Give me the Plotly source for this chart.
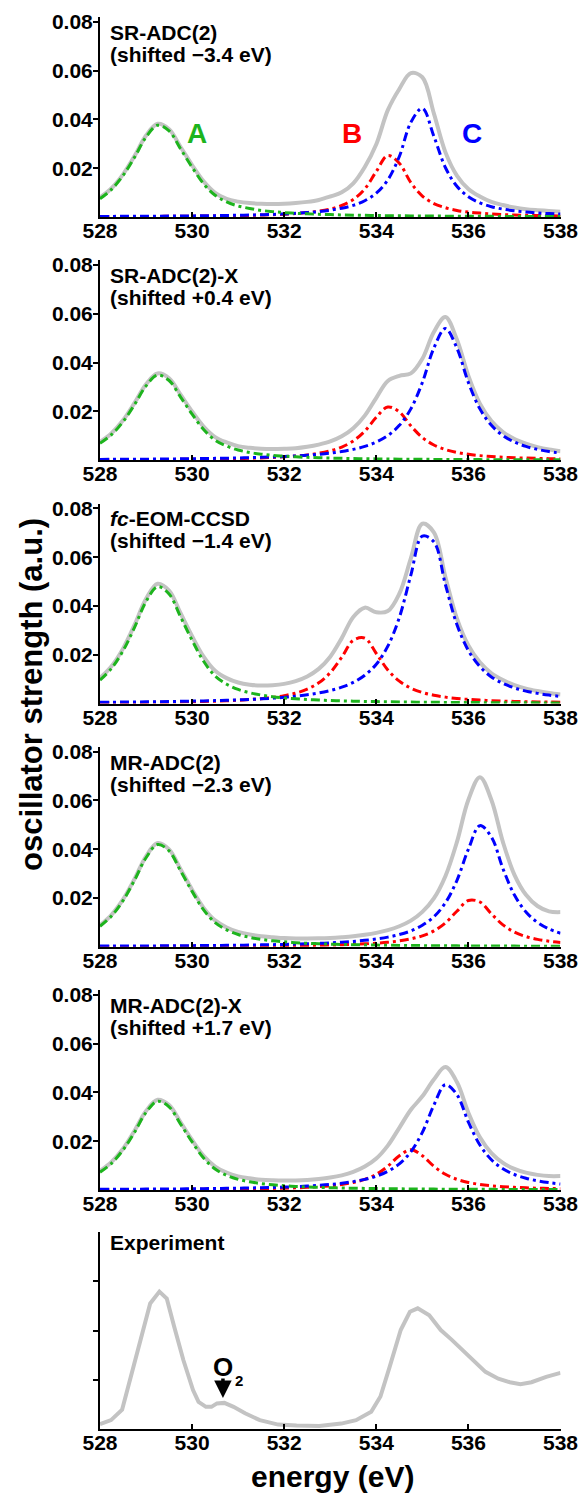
import plotly.graph_objects as go

# ---------------- data ----------------
energy = [528.0, 528.25, 528.5, 528.75, 529.0, 529.25, 529.5, 529.75, 530.0, 530.25,
          530.5, 530.75, 531.0, 531.25, 531.5, 531.75, 532.0, 532.25, 532.5, 532.75,
          533.0, 533.25, 533.5, 533.75, 534.0, 534.25, 534.5, 534.75, 535.0, 535.25,
          535.5, 535.75, 536.0, 536.25, 536.5, 536.75, 537.0, 537.25, 537.5, 537.75,
          538.0]

sr2_total = [0.0080, 0.0118, 0.0175, 0.0250, 0.0334, 0.0382, 0.0360, 0.0287, 0.0213, 0.0146,
             0.0099, 0.0074, 0.0063, 0.0057, 0.0054, 0.0053, 0.0054, 0.0057, 0.0062, 0.0070,
             0.0084, 0.0101, 0.0138, 0.0205, 0.0298, 0.0438, 0.0525, 0.0590, 0.0573, 0.0425,
             0.0266, 0.0170, 0.0115, 0.0084, 0.0062, 0.0049, 0.0039, 0.0032, 0.0028, 0.0025,
             0.0022]
sr2_A = [0.0075, 0.0113, 0.0170, 0.0245, 0.0328, 0.0376, 0.0353, 0.0279, 0.0204, 0.0136,
         0.0089, 0.0062, 0.0045, 0.0035, 0.0027, 0.0022, 0.0018, 0.0015, 0.0013, 0.0011,
         0.0010, 0.00085, 0.00075, 0.00067, 0.0006, 0.00055, 0.0005, 0.00045, 0.00041, 0.00038,
         0.00035, 0.00032, 0.0003, 0.00028, 0.00026, 0.00025, 0.00023, 0.00022, 0.00021, 0.0002,
         0.00018]
sr2_B = [0.00016, 0.00017, 0.00019, 0.0002, 0.00022, 0.00025, 0.00027, 0.0003, 0.00034, 0.00038,
         0.00043, 0.00049, 0.00057, 0.00067, 0.00079, 0.00094, 0.00115, 0.00143, 0.00184, 0.0024,
         0.00329, 0.00472, 0.00717, 0.0115, 0.0187, 0.0252, 0.0220, 0.0141, 0.0086, 0.0055,
         0.0038, 0.0027, 0.0020, 0.0016, 0.00125, 0.0010, 0.00084, 0.00071, 0.00061, 0.00053,
         0.00046]
sr2_C = [0.00023, 0.00025, 0.00027, 0.00029, 0.00032, 0.00034, 0.00037, 0.00041, 0.00045, 0.0005,
         0.00056, 0.00063, 0.00071, 0.00081, 0.00093, 0.00107, 0.00126, 0.00149, 0.0018, 0.0022,
         0.00279, 0.0036, 0.00477, 0.00666, 0.00977, 0.0152, 0.0248, 0.0388, 0.04455, 0.0331,
         0.0203, 0.0126, 0.0083, 0.0058, 0.0042, 0.00324, 0.00252, 0.00203, 0.00167, 0.00139,
         0.00118]

srx_total = [0.0075, 0.0111, 0.0164, 0.0235, 0.0312, 0.0356, 0.0336, 0.0269, 0.0200, 0.0138,
             0.0095, 0.0073, 0.0058, 0.0051, 0.0047, 0.0046, 0.0047, 0.0049, 0.0055, 0.0064,
             0.0077, 0.0098, 0.0131, 0.0183, 0.0256, 0.0325, 0.0346, 0.0356, 0.0416, 0.0526,
             0.0587, 0.0495, 0.0346, 0.0232, 0.0161, 0.0116, 0.0087, 0.0068, 0.0054, 0.0044,
             0.0037]
srx_A = [0.0070, 0.0105, 0.0158, 0.0228, 0.0305, 0.0349, 0.0327, 0.0259, 0.0189, 0.0126,
         0.0082, 0.0058, 0.0042, 0.0032, 0.0025, 0.0020, 0.0017, 0.0014, 0.0012, 0.00103,
         0.0009, 0.00079, 0.0007, 0.00063, 0.00056, 0.00051, 0.00046, 0.00042, 0.00039, 0.00035,
         0.00033, 0.0003, 0.00028, 0.00026, 0.00025, 0.00023, 0.00022, 0.0002, 0.00019, 0.00018,
         0.00017]
srx_B = [0.0002, 0.00021, 0.00023, 0.00025, 0.00028, 0.00031, 0.00033, 0.00038, 0.00042, 0.00048,
         0.00053, 0.00061, 0.0007, 0.00082, 0.00097, 0.00116, 0.0014, 0.00174, 0.0022, 0.00286,
         0.00387, 0.00541, 0.00792, 0.01195, 0.0176, 0.02185, 0.0198, 0.0141, 0.00933, 0.00627,
         0.0044, 0.00321, 0.00244, 0.0019, 0.00152, 0.00125, 0.00104, 0.00088, 0.00075, 0.00065,
         0.00057]
srx_C = [0.00035, 0.00037, 0.00039, 0.00042, 0.00045, 0.00049, 0.00053, 0.00058, 0.00064, 0.0007,
         0.00077, 0.00085, 0.00095, 0.00105, 0.00119, 0.00135, 0.00154, 0.00178, 0.00208, 0.00246,
         0.00294, 0.00356, 0.00446, 0.00567, 0.00745, 0.0101, 0.0143, 0.02106, 0.03186, 0.0460,
         0.0540, 0.0460, 0.03186, 0.02106, 0.0143, 0.0101, 0.00745, 0.00567, 0.00446, 0.00356,
         0.00294]

eom_total = [0.01045, 0.0153, 0.0225, 0.0322, 0.0429, 0.0491, 0.0463, 0.0370, 0.0276, 0.0192,
             0.0134, 0.0104, 0.0086, 0.0077, 0.00735, 0.0075, 0.00805, 0.0092, 0.0111, 0.0142,
             0.0192, 0.0268, 0.0355, 0.0393, 0.0374, 0.0379, 0.0450, 0.0595, 0.0737, 0.0702,
             0.0519, 0.0349, 0.0238, 0.01685, 0.0124, 0.0096, 0.00755, 0.0061, 0.0051, 0.0043,
             0.00365]
eom_A = [0.0096, 0.0144, 0.0216, 0.0312, 0.0418, 0.0479, 0.0449, 0.0355, 0.0259, 0.0173,
         0.0113, 0.0079, 0.00576, 0.00442, 0.00346, 0.00278, 0.0023, 0.00191, 0.00163, 0.00141,
         0.00123, 0.00108, 0.00096, 0.00086, 0.00077, 0.0007, 0.00063, 0.00058, 0.00053, 0.00048,
         0.00045, 0.00041, 0.00038, 0.00036, 0.00034, 0.00032, 0.0003, 0.00028, 0.00026, 0.00025,
         0.00024]
eom_B = [0.00031, 0.00034, 0.00037, 0.00041, 0.00045, 0.0005, 0.00056, 0.00064, 0.00072, 0.00083,
         0.00096, 0.00113, 0.00134, 0.00162, 0.00199, 0.0025, 0.00322, 0.00426, 0.00589, 0.00847,
         0.01265, 0.0190, 0.0259, 0.0268, 0.0205, 0.01375, 0.00916, 0.0063, 0.00454, 0.00338,
         0.00261, 0.00208, 0.00168, 0.00139, 0.00117, 0.00099, 0.00085, 0.00074, 0.00065, 0.00058,
         0.00051]
eom_C = [0.0005, 0.00054, 0.00058, 0.00062, 0.00068, 0.00073, 0.0008, 0.00088, 0.00097, 0.00106,
         0.00118, 0.00132, 0.00148, 0.00167, 0.0019, 0.00219, 0.00254, 0.003, 0.00357, 0.0043,
         0.00532, 0.0067, 0.00867, 0.0116, 0.0161, 0.0235, 0.03525, 0.0526, 0.0686, 0.0663,
         0.0488, 0.0324, 0.0217, 0.0151, 0.0109, 0.00825, 0.0064, 0.00509, 0.00415, 0.00344,
         0.0029]

mr2_total = [0.0088, 0.0131, 0.0194, 0.0278, 0.0371, 0.0425, 0.0399, 0.0318, 0.0234, 0.01595,
             0.0108, 0.0079, 0.0061, 0.0050, 0.0043, 0.0039, 0.00355, 0.0034, 0.0034, 0.00345,
             0.0036, 0.0039, 0.0043, 0.0049, 0.0057, 0.0068, 0.0084, 0.0107, 0.0143, 0.0198,
             0.0289, 0.0429, 0.0603, 0.0695, 0.0602, 0.0429, 0.0295, 0.0213, 0.0167, 0.0145,
             0.0142]
mr2_A = [0.0084, 0.0126, 0.0189, 0.0273, 0.0365, 0.0419, 0.0393, 0.0311, 0.0227, 0.0151,
         0.00987, 0.00693, 0.00504, 0.00386, 0.00302, 0.00244, 0.00202, 0.00167, 0.00143, 0.00123,
         0.00108, 0.00095, 0.00084, 0.00075, 0.00067, 0.00061, 0.00055, 0.0005, 0.00046, 0.00042,
         0.00039, 0.00036, 0.00034, 0.00031, 0.00029, 0.00028, 0.00026, 0.00024, 0.00023, 0.00022,
         0.00021]
mr2_B = [0.00011, 0.00011, 0.00012, 0.00013, 0.00014, 0.00015, 0.00016, 0.00017, 0.00019, 0.0002,
         0.00022, 0.00024, 0.00027, 0.00029, 0.00033, 0.00036, 0.00041, 0.00046, 0.00053, 0.0006,
         0.0007, 0.00083, 0.00099, 0.00119, 0.00147, 0.00185, 0.0024, 0.00322, 0.00447, 0.00649,
         0.00975, 0.01455, 0.01897, 0.01835, 0.0135, 0.00897, 0.006, 0.00417, 0.00302, 0.00228,
         0.00177]
mr2_C = [0.00026, 0.00028, 0.0003, 0.00032, 0.00034, 0.00036, 0.00039, 0.00042, 0.00045, 0.00049,
         0.00053, 0.00058, 0.00063, 0.0007, 0.00077, 0.00086, 0.00096, 0.00108, 0.00122, 0.00139,
         0.0016, 0.00187, 0.0022, 0.00263, 0.00319, 0.00395, 0.005, 0.0065, 0.0088, 0.0123,
         0.018, 0.02715, 0.040, 0.04965, 0.045, 0.032, 0.0212, 0.01425, 0.010, 0.0073,
         0.00555]

mrx_total = [0.0078, 0.0115, 0.0169, 0.0243, 0.0324, 0.0370, 0.0348, 0.02775, 0.0205, 0.0140,
             0.0096, 0.0071, 0.0056, 0.0048, 0.0042, 0.00395, 0.00385, 0.0039, 0.0041, 0.0045,
             0.0051, 0.0060, 0.0074, 0.0096, 0.0129, 0.0182, 0.0255, 0.0329, 0.0384, 0.0453,
             0.0504, 0.0443, 0.0317, 0.0216, 0.0151, 0.0111, 0.00865, 0.0071, 0.0062, 0.0057,
             0.0057]
mrx_A = [0.0073, 0.01095, 0.0164, 0.0237, 0.0318, 0.0364, 0.0341, 0.0270, 0.0197, 0.0131,
         0.00858, 0.00602, 0.00438, 0.00336, 0.00263, 0.00212, 0.00175, 0.00145, 0.00124, 0.00107,
         0.00094, 0.00082, 0.00073, 0.00065, 0.00058, 0.00053, 0.00048, 0.00044, 0.0004, 0.00037,
         0.00034, 0.00031, 0.00029, 0.00027, 0.00026, 0.00024, 0.00023, 0.00021, 0.0002, 0.00019,
         0.00018]
mrx_B = [0.00013, 0.00014, 0.00015, 0.00016, 0.00018, 0.00019, 0.00021, 0.00023, 0.00026, 0.00029,
         0.00032, 0.00036, 0.00041, 0.00047, 0.00054, 0.00064, 0.00075, 0.0009, 0.00109, 0.00136,
         0.00173, 0.00228, 0.00309, 0.00437, 0.00644, 0.00974, 0.01406, 0.0165, 0.01406, 0.00974,
         0.00644, 0.00437, 0.00309, 0.00228, 0.00173, 0.00136, 0.00109, 0.0009, 0.00075, 0.00064,
         0.00054]
mrx_C = [0.00027, 0.00029, 0.00031, 0.00033, 0.00036, 0.00039, 0.00042, 0.00046, 0.0005, 0.00055,
         0.0006, 0.00067, 0.00074, 0.00084, 0.00094, 0.00106, 0.00121, 0.00139, 0.00162, 0.00191,
         0.00228, 0.00277, 0.00344, 0.00435, 0.00566, 0.00766, 0.0107, 0.01566, 0.0236, 0.0348,
         0.0432, 0.03915, 0.02784, 0.01844, 0.0124, 0.0087, 0.00635, 0.00483, 0.00376, 0.00301,
         0.00246]

exp_energy = [528.0, 528.24, 528.48, 528.69, 528.89, 529.09, 529.29, 529.45, 529.61, 529.81,
              530.02, 530.14, 530.3, 530.42, 530.54, 530.7, 530.9, 531.15, 531.47, 531.87,
              532.27, 532.76, 533.24, 533.56, 533.89, 534.09, 534.29, 534.53, 534.73, 534.9,
              535.15, 535.4, 535.64, 535.88, 536.13, 536.37, 536.65, 536.9, 537.13, 537.37,
              537.69, 538.0]
exp_intensity = [0.1, 0.18, 0.39, 1.13, 1.81, 2.55, 2.79, 2.65, 2.08, 1.40,
                 0.79, 0.55, 0.45, 0.45, 0.52, 0.53, 0.45, 0.32, 0.18, 0.09,
                 0.07, 0.06, 0.11, 0.18, 0.35, 0.66, 1.26, 2.01, 2.38, 2.45,
                 2.31, 2.01, 1.81, 1.60, 1.37, 1.16, 1.02, 0.95, 0.91, 0.95,
                 1.06, 1.14]

method_names = ["SR-ADC(2)", "SR-ADC(2)-X", "<i>fc</i>-EOM-CCSD", "MR-ADC(2)", "MR-ADC(2)-X"]
shift_labels = ["(shifted \u22123.4 eV)", "(shifted +0.4 eV)", "(shifted \u22121.4 eV)",
                "(shifted \u22122.3 eV)", "(shifted +1.7 eV)"]
peak_labels = ["A", "B", "C"]
peak_label_energy = [530.1, 533.47, 536.07]
peak_label_level = 0.0344
x_ticks = [528, 530, 532, 534, 536, 538]
y_ticks = [0.02, 0.04, 0.06, 0.08]
exp_ticks = [1, 2, 3, 4]
o2_energy = 530.67

totals = [sr2_total, srx_total, eom_total, mr2_total, mrx_total]
comps_A = [sr2_A, srx_A, eom_A, mr2_A, mrx_A]
comps_B = [sr2_B, srx_B, eom_B, mr2_B, mrx_B]
comps_C = [sr2_C, srx_C, eom_C, mr2_C, mrx_C]

# ---------------- style ----------------
W, H = 580, 1495
FONT = "Liberation Sans, Arial, sans-serif"
GRAY = "#c3c3c3"
GREEN = "#1db41d"
RED = "#ff0000"
BLUE = "#0000ff"
DASH = "9px,4px,3px,4px"
X0, X1 = 100, 560.5
bottoms = [217, 460.25, 703.5, 946.75, 1190]
panel_h = 200
exp_bottom, exp_top = 1429, 1232

fig = go.Figure()


def dom(bot, top):
    return [1 - bot / H, 1 - top / H]


tickfont = dict(family=FONT, size=21, color="black", weight="bold")
common_x = dict(range=[528, 538], tickvals=x_ticks, ticks="inside", ticklen=5, tickwidth=2,
                tickcolor="black", showline=True, linewidth=2, linecolor="black",
                showgrid=False, zeroline=False, tickfont=tickfont, automargin=False,
                ticklabelstandoff=-6, domain=[X0 / W, X1 / W])
common_y = dict(ticks="inside", ticklen=0, tickwidth=2, tickcolor="black",
                showline=True, linewidth=2, linecolor="black", showgrid=False,
                zeroline=False, tickfont=tickfont, automargin=False, ticklabelstandoff=1)

for k in range(5):
    ax = "" if k == 0 else str(k + 1)
    xa, ya = "x" + ax, "y" + ax
    fig.add_trace(go.Scatter(x=energy, y=totals[k], mode="lines", xaxis=xa, yaxis=ya,
                             line=dict(color=GRAY, width=4, shape="spline"), hoverinfo="skip"))
    fig.add_trace(go.Scatter(x=energy, y=comps_B[k], mode="lines", xaxis=xa, yaxis=ya,
                             line=dict(color=RED, width=3, dash=DASH, shape="spline"), hoverinfo="skip"))
    fig.add_trace(go.Scatter(x=energy, y=comps_C[k], mode="lines", xaxis=xa, yaxis=ya,
                             line=dict(color=BLUE, width=3, dash=DASH, shape="spline"), hoverinfo="skip"))
    fig.add_trace(go.Scatter(x=energy, y=comps_A[k], mode="lines", xaxis=xa, yaxis=ya,
                             line=dict(color=GREEN, width=3, dash=DASH, shape="spline"), hoverinfo="skip"))
    fig.update_layout(**{
        "xaxis" + ax: dict(anchor=ya, **common_x),
        "yaxis" + ax: dict(domain=dom(bottoms[k], bottoms[k] - panel_h), anchor=xa,
                           range=[0, 0.082], tickvals=y_ticks, tickformat=".2f",
                           minor=dict(tickvals=y_ticks, ticks="outside", ticklen=5,
                                      tickwidth=2, tickcolor="black", showgrid=False),
                           **common_y),
    })
    fig.add_annotation(x=528.17, y=0.0757, xref=xa, yref=ya, text=method_names[k],
                       showarrow=False, xanchor="left", yanchor="middle",
                       font=dict(family=FONT, size=21, color="black", weight="bold"))
    fig.add_annotation(x=528.17, y=0.0667, xref=xa, yref=ya, text=shift_labels[k],
                       showarrow=False, xanchor="left", yanchor="middle",
                       font=dict(family=FONT, size=21, color="black", weight="bold"))

for lab, ex, col in zip(peak_labels, peak_label_energy, [GREEN, RED, BLUE]):
    fig.add_annotation(x=ex, y=peak_label_level, xref="x", yref="y", text=lab, showarrow=False,
                       xanchor="center", yanchor="middle",
                       font=dict(family=FONT, size=28, color=col, weight="bold"))

# experiment panel
fig.add_trace(go.Scatter(x=exp_energy, y=exp_intensity, mode="lines", xaxis="x6", yaxis="y6",
                         line=dict(color=GRAY, width=4), hoverinfo="skip"))
fig.update_layout(
    xaxis6=dict(anchor="y6", **common_x),
    yaxis6=dict(domain=dom(exp_bottom, exp_top), anchor="x6", range=[0, 4], tickvals=exp_ticks,
                showticklabels=False,
                minor=dict(tickvals=exp_ticks, ticks="outside", ticklen=5, tickwidth=2,
                           tickcolor="black", showgrid=False),
                **common_y),
)
fig.add_annotation(x=528.17, y=3.777, xref="x6", yref="y6", text="Experiment", showarrow=False,
                   xanchor="left", yanchor="middle",
                   font=dict(family=FONT, size=21, color="black", weight="bold"))
fig.add_annotation(x=o2_energy, y=1.25, xref="x6", yref="y6", text="O", showarrow=False,
                   xanchor="center", yanchor="middle",
                   font=dict(family=FONT, size=26, color="black", weight="bold"))
fig.add_annotation(x=531.02, y=0.99, xref="x6", yref="y6", text="2", showarrow=False,
                   xanchor="center", yanchor="middle",
                   font=dict(family=FONT, size=15, color="black", weight="bold"))
fig.add_annotation(x=o2_energy, y=0.63, xref="x6", yref="y6", text="", showarrow=True,
                   ax=0, ay=-21, arrowhead=2, arrowsize=1, arrowwidth=3.5, arrowcolor="black")

# axis titles
fig.add_annotation(x=31 / W, y=1 - 695 / H, xref="paper", yref="paper",
                   text="oscillator strength (a.u.)", textangle=-90, showarrow=False,
                   xanchor="center", yanchor="middle",
                   font=dict(family=FONT, size=31, color="black", weight="bold"))
fig.add_annotation(x=332 / W, y=0, xref="paper", yref="paper",
                   text="energy (eV)", showarrow=False, xanchor="center", yanchor="bottom",
                   font=dict(family=FONT, size=30, color="black", weight="bold"))

fig.update_layout(width=W, height=H, margin=dict(l=0, r=0, t=0, b=0), showlegend=False,
                  plot_bgcolor="white", paper_bgcolor="white")

fig.write_html("out.html", config={"displayModeBar": False},
               post_script="document.body.style.margin='0';")
